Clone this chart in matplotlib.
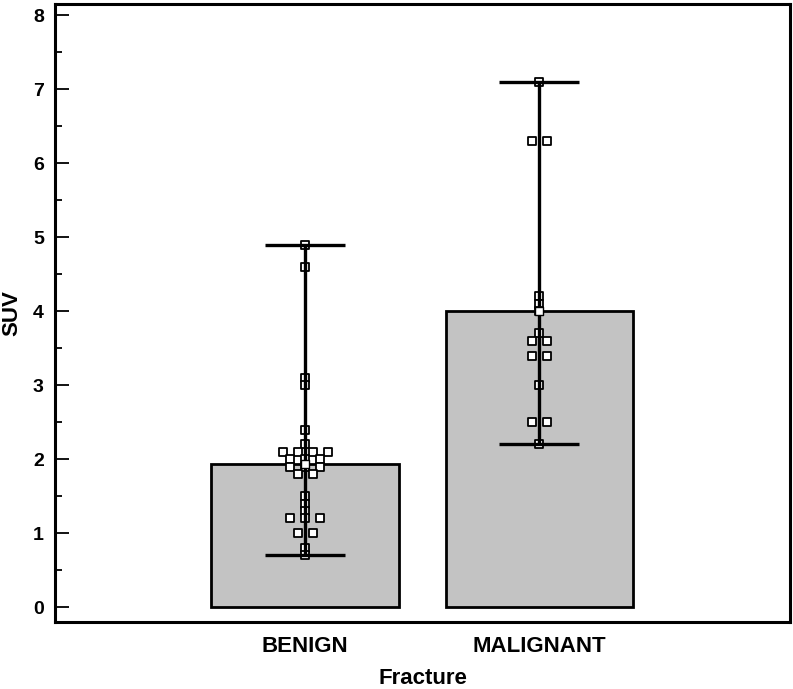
"""Bar chart of SUV by fracture type, with individual points and range bars."""

import matplotlib
matplotlib.use("Agg")
import matplotlib.pyplot as plt
import numpy as np
from matplotlib.ticker import MultipleLocator

plt.rcParams["font.family"] = ["Liberation Sans", "DejaVu Sans"]
plt.rcParams["font.weight"] = "bold"

categories = ["BENIGN", "MALIGNANT"]
bar_means = [1.93, 4.0]

benign_suv = [4.9, 4.6, 3.1, 3.0, 2.4, 2.2,
              2.1, 2.1, 2.1, 2.1,
              2.0, 2.0, 2.0,
              1.9, 1.9, 1.9,
              1.8, 1.8,
              1.5, 1.4, 1.3,
              1.2, 1.2, 1.2,
              1.0, 1.0,
              0.8, 0.7]
malignant_suv = [7.1, 6.3, 6.3, 4.2, 4.1, 4.0, 3.7, 3.6, 3.6,
                 3.4, 3.4, 3.0, 2.5, 2.5, 2.2]

groups = [benign_suv, malignant_suv]


def swarm_offsets(values, step):
    """Spread equal values symmetrically around the centre."""
    values = np.asarray(values)
    offsets = np.zeros(len(values))
    for v in np.unique(values):
        idx = np.where(values == v)[0]
        n = len(idx)
        offsets[idx] = (np.arange(n) - (n - 1) / 2) * step
    return offsets


fig = plt.figure(figsize=(7.93, 6.89), dpi=100)
ax = fig.add_axes([55 / 793, 67 / 689, 735 / 793, 618 / 689])

x = np.arange(len(categories))
ax.bar(x, bar_means, width=0.8, color="#c3c3c3", edgecolor="black",
       linewidth=2.0, zorder=1)

for xi, vals, mean in zip(x, groups, bar_means):
    lo = mean - min(vals)
    hi = max(vals) - mean
    ax.scatter(xi + swarm_offsets(vals, 0.064), vals, marker="s", s=40,
               facecolor="white", edgecolor="black", linewidth=1.3, zorder=2)
    ax.errorbar(xi, mean, yerr=[[lo], [hi]], fmt="none", ecolor="black",
                elinewidth=2.4, capsize=28.8, capthick=2.4, zorder=3)
    ax.scatter([xi], [mean], marker="s", s=40, facecolor="white",
               edgecolor="black", linewidth=1.0, zorder=4)

ax.set_xlim(-1.068, 2.07)
ax.set_ylim(-0.2, 8.15)
ax.set_xticks(x)
ax.set_xticklabels(categories, fontsize=16, fontweight="bold")
ax.tick_params(axis="x", length=0, pad=10)
ax.yaxis.set_major_locator(MultipleLocator(1))
ax.yaxis.set_minor_locator(MultipleLocator(0.5))
ax.tick_params(axis="y", which="major", direction="in", length=10,
               width=1.3, labelsize=14, pad=8)
ax.tick_params(axis="y", which="minor", direction="in", length=5, width=1.3)
for label in ax.get_yticklabels():
    label.set_fontweight("bold")

for spine in ax.spines.values():
    spine.set_linewidth(2.2)

ax.set_ylabel("SUV", fontsize=16, fontweight="bold", labelpad=8)
ax.set_xlabel("Fracture", fontsize=16, fontweight="bold", labelpad=8)

fig.savefig("out.png", dpi=100)
